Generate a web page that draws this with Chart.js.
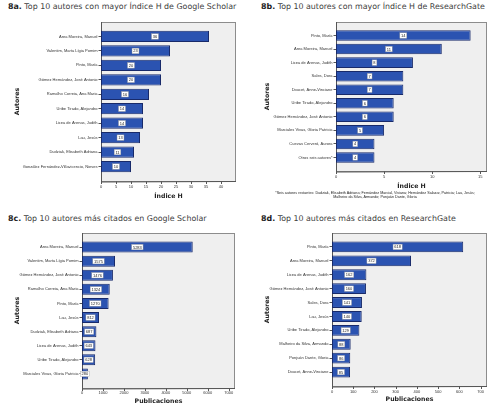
<!DOCTYPE html>
<html>
<head>
<meta charset="utf-8">
<script src="https://cdn.jsdelivr.net/npm/chart.js@4"></script>
<style>
  body { margin: 0; width: 500px; height: 414px; background: #fff; position: relative; overflow: hidden; font-family: "DejaVu Sans", sans-serif; }
  .t { position: absolute; font-size: 7.9px; color: #404040; white-space: nowrap; line-height: 1; }
  .t b { color: #1e1e1e; }
  canvas { position: absolute; }
  .note { position: absolute; left: 258px; width: 234px; top: 191px; font-family: "Liberation Sans", sans-serif; font-size: 3.7px; line-height: 4px; text-align: center; color: #222; }
</style>
</head>
<body>
<div class="t" style="left:8px;top:3px"><b>8a.</b> Top 10 autores con mayor Índice H de Google Scholar</div>
<div class="t" style="left:261px;top:3px"><b>8b.</b> Top 10 autores con mayor Índice H de ResearchGate</div>
<div class="t" style="left:8px;top:215px"><b>8c.</b> Top 10 autores más citados en Google Scholar</div>
<div class="t" style="left:261px;top:215px"><b>8d.</b> Top 10 autores más citados en ResearchGate</div>

<canvas id="c8a" width="250" height="190" style="left:0;top:14px"></canvas>
<canvas id="c8b" width="250" height="180" style="left:250px;top:14px"></canvas>
<canvas id="c8c" width="250" height="185" style="left:0;top:225px"></canvas>
<canvas id="c8d" width="250" height="185" style="left:250px;top:225px"></canvas>

<div class="note">*Seis autores restantes: Dudziak, Elisabeth Adriana; Fernández Marcial, Viviana; Hernández Salazar, Patricia; Lau, Jesús;<br>Malheiro da Silva, Armando; Ponjuán Dante, Gloria</div>

<script>
// 8a - Indice H, Google Scholar
const autores8a = ["Area Moreira, Manuel", "Valentim, Marta Lígia Pomim", "Pinto, María",
  "Gómez Hernández, José Antonio", "Ramalho Correia, Ana Maria", "Uribe Tirado, Alejandro",
  "Licea de Arenas, Judith", "Lau, Jesús", "Dudziak, Elisabeth Adriana",
  "González Fernández-Villavicencio, Nieves"];
const indiceH8a = [36, 23, 20, 20, 16, 14, 14, 13, 11, 10];
const ticks8a = [0, 5, 10, 15, 20, 25, 30, 35, 40];

// 8b - Indice H, ResearchGate
const autores8b = ["Pinto, María", "Area Moreira, Manuel", "Licea de Arenas, Judith", "Sales, Dora",
  "Doucet, Anne-Vinciane", "Uribe Tirado, Alejandro", "Gómez Hernández, José Antonio",
  "Marciales Vivas, Gloria Patricia", "Cuevas Cerveró, Aurora", "Otros seis autores*"];
const indiceH8b = [14, 11, 8, 7, 7, 6, 6, 5, 4, 4];
const ticks8b = [0, 5, 10, 15];

// 8c - citas, Google Scholar
const autores8c = ["Area Moreira, Manuel", "Valentim, Marta Lígia Pomim", "Gómez Hernández, José Antonio",
  "Ramalho Correia, Ana Maria", "Pinto, María", "Lau, Jesús", "Dudziak, Elisabeth Adriana",
  "Licea de Arenas, Judith", "Uribe Tirado, Alejandro", "Marciales Vivas, Gloria Patricia"];
const citas8c = [5283, 1575, 1476, 1324, 1270, 812, 687, 643, 628, 280];
const ticks8c = [0, 1000, 2000, 3000, 4000, 5000, 6000, 7000];

// 8d - citas, ResearchGate
const autores8d = ["Pinto, María", "Area Moreira, Manuel", "Licea de Arenas, Judith",
  "Gómez Hernández, José Antonio", "Sales, Dora", "Lau, Jesús", "Uribe Tirado, Alejandro",
  "Malheiro da Silva, Armando", "Ponjuán Dante, Gloria", "Doucet, Anne-Vinciane"];
const citas8d = [618, 372, 162, 160, 141, 140, 129, 88, 86, 85];
const ticks8d = [0, 100, 200, 300, 400, 500, 600, 700];

const smallFont = { size: 4, family: "Liberation Sans" };
const titleFont = { size: 6.2, weight: "bold", family: "DejaVu Sans", lineHeight: 1 };

// grey plot box (half a category above and below the bars), x tick marks, value boxes
const marco = {
  id: "marco",
  beforeDraw(chart) {
    const a = chart.chartArea, c = (a.bottom - a.top) / chart.data.labels.length;
    const ctx = chart.ctx;
    ctx.save();
    ctx.fillStyle = "#efefef";
    ctx.fillRect(a.left, a.top - c / 2, a.right - a.left, a.bottom - a.top + c);
    ctx.restore();
  },
  beforeDatasetsDraw(chart) {
    const a = chart.chartArea, c = (a.bottom - a.top) / chart.data.labels.length;
    const ctx = chart.ctx;
    const yb = Math.round(a.bottom + c / 2) + 0.5;
    ctx.save();
    ctx.strokeStyle = "#8c8c8c";
    ctx.lineWidth = 1;
    ctx.strokeRect(Math.round(a.left) + 0.5, Math.round(a.top - c / 2) + 0.5,
      Math.round(a.right - a.left) - 1, yb - Math.round(a.top - c / 2) - 0.5);
    ctx.strokeStyle = "#555";
    ctx.beginPath();
    ctx.moveTo(Math.round(a.left) + 0.5, Math.round(a.top - c / 2));
    ctx.lineTo(Math.round(a.left) + 0.5, yb + 0.5);
    ctx.lineTo(a.right, yb);
    const sx = chart.scales.x;
    sx.ticks.forEach(t => {
      const px = Math.round(sx.getPixelForValue(t.value)) + 0.5;
      ctx.moveTo(px, yb);
      ctx.lineTo(px, yb + 2.5);
    });
    ctx.stroke();
    ctx.restore();
  },
  afterDatasetsDraw(chart) {
    const ctx = chart.ctx;
    const vals = chart.data.datasets[0].data;
    ctx.save();
    ctx.font = '4px "Liberation Sans"';
    ctx.textAlign = "center";
    ctx.textBaseline = "middle";
    chart.getDatasetMeta(0).data.forEach((bar, i) => {
      const p = bar.getProps(["x", "y", "base"], true);
      const cx = (p.x + p.base) / 2;
      const txt = String(vals[i]);
      const w = ctx.measureText(txt).width + 2.5, h = 5.5;
      ctx.fillStyle = "#fff";
      ctx.fillRect(cx - w / 2, p.y - h / 2, w, h);
      ctx.strokeStyle = "#9a9a9a";
      ctx.lineWidth = 0.4;
      ctx.strokeRect(cx - w / 2, p.y - h / 2, w, h);
      ctx.fillStyle = "#222";
      ctx.fillText(txt, cx, p.y + 0.3);
    });
    ctx.restore();
  }
};

function panel(id, labels, values, ticks, xMax, xTitle, box) {
  const canvas = document.getElementById(id);
  const cw = canvas.width, ch = canvas.height;
  const n = labels.length;
  const c = (box.fb - box.ft) / (n + 1);
  const top = box.ft + c / 2, bottom = box.fb - c / 2;
  new Chart(canvas, {
    type: "bar",
    data: {
      labels: labels,
      datasets: [{
        data: values,
        backgroundColor: "#2b53b1",
        borderColor: "#182a6a",
        borderWidth: 1,
        borderSkipped: false,
        barPercentage: 0.78,
        categoryPercentage: 1
      }]
    },
    options: {
      responsive: false,
      animation: false,
      indexAxis: "y",
      layout: { padding: { top: top, right: cw - box.fr, left: 0, bottom: 0 } },
      plugins: { legend: { display: false }, tooltip: { enabled: false } },
      scales: {
        x: {
          type: "linear",
          min: 0,
          max: xMax,
          afterBuildTicks: s => { s.ticks = ticks.map(v => ({ value: v })); },
          afterFit: s => { s.height = ch - bottom; },
          grid: { display: false, drawTicks: false },
          border: { display: false },
          ticks: {
            padding: box.fb - bottom + box.gap, font: smallFont, color: "#333",
            maxRotation: 0, autoSkip: false, callback: v => String(v)
          },
          title: {
            display: true, text: xTitle, color: "#222", font: titleFont,
            padding: { top: 0, bottom: ch - 3.1 - box.titleY }
          }
        },
        y: {
          afterFit: s => { s.width = box.fl; },
          grid: { offset: false, drawOnChartArea: false, tickLength: 2.5, color: "#555" },
          border: { display: false },
          ticks: { padding: 1, font: smallFont, color: "#333", autoSkip: false },
          title: {
            display: true, text: "Autores", color: "#222", font: titleFont,
            padding: { top: 14, bottom: 0 }
          }
        }
      }
    },
    plugins: [marco]
  });
}

panel("c8a", autores8a, indiceH8a, ticks8a, 45, "Índice H",
  { fl: 101, ft: 8, fr: 236, fb: 167, gap: 3.5, titleY: 182 });
panel("c8b", autores8b, indiceH8b, ticks8b, 15.7, "Índice H",
  { fl: 86, ft: 8, fr: 237, fb: 157, gap: 3.5, titleY: 172 });
panel("c8c", autores8c, citas8c, ticks8c, 7300, "Publicaciones",
  { fl: 82, ft: 8, fr: 235, fb: 163, gap: 2, titleY: 176 });
panel("c8d", autores8d, citas8d, ticks8d, 730, "Publicaciones",
  { fl: 82, ft: 8, fr: 237, fb: 161, gap: 3.5, titleY: 174 });
</script>
</body>
</html>
